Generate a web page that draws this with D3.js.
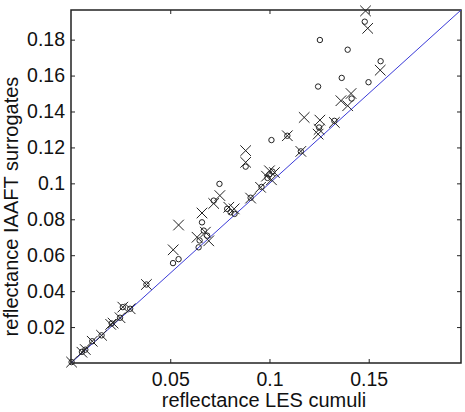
<html>
    <head>
        <script src="https://cdn.jsdelivr.net/npm/d3@7"></script>
        <style>
            body { margin: 0; background: #fff; }
            text { font-family: "Liberation Sans", Arial, sans-serif; fill: #111; }
        </style>
    </head>
    <body>
        <div id="chart"></div>

        <script type="text/javascript">

            // reflectance: LES cumuli (x) vs IAAFT surrogates (y)
            const crossX = [0.0003, 0.0055, 0.0072, 0.0107, 0.0154, 0.0200, 0.0212, 0.0247, 0.0261, 0.0298,
                            0.0380, 0.0515, 0.0542, 0.0635, 0.0677, 0.0694, 0.0660, 0.0719, 0.0750, 0.0795,
                            0.0822, 0.0905, 0.0880, 0.0880, 0.0955, 0.0985, 0.1000, 0.1010, 0.1025, 0.1090,
                            0.1158, 0.1175, 0.1254, 0.1250, 0.1245, 0.1327, 0.1360, 0.1394, 0.1411, 0.1484,
                            0.1495, 0.1558]
            const crossY = [0.0005, 0.0060, 0.0075, 0.0121, 0.0154, 0.0215, 0.0222, 0.0252, 0.0311, 0.0302,
                            0.0437, 0.0630, 0.0768, 0.0700, 0.0728, 0.0680, 0.0835, 0.0888, 0.0932, 0.0867,
                            0.0858, 0.0918, 0.1182, 0.1117, 0.0978, 0.1040, 0.1070, 0.1020, 0.1060, 0.1265,
                            0.1178, 0.1367, 0.1352, 0.1300, 0.1274, 0.1339, 0.1460, 0.1432, 0.1500, 0.1960,
                            0.1863, 0.1630]

            const circleX = [0.0003, 0.0055, 0.0072, 0.0107, 0.0154, 0.0205, 0.0247, 0.0261, 0.0298, 0.0380,
                             0.0514, 0.0542, 0.0643, 0.0648, 0.0669, 0.0686, 0.0660, 0.0719, 0.0748, 0.0787,
                             0.0804, 0.0824, 0.0880, 0.0905, 0.0960, 0.0990, 0.1000, 0.1015, 0.1010, 0.1090,
                             0.1158, 0.1250, 0.1327, 0.1245, 0.1254, 0.1364, 0.1394, 0.1414, 0.1499, 0.1480,
                             0.1560]
            const circleY = [0.0005, 0.0062, 0.0074, 0.0121, 0.0154, 0.0220, 0.0252, 0.0311, 0.0302, 0.0437,
                             0.0556, 0.0578, 0.0644, 0.0682, 0.0737, 0.0709, 0.0783, 0.0904, 0.0997, 0.0858,
                             0.0839, 0.0830, 0.1093, 0.0920, 0.0980, 0.1030, 0.1050, 0.1065, 0.1241, 0.1265,
                             0.1178, 0.1311, 0.1348, 0.1539, 0.1798, 0.1587, 0.1744, 0.1472, 0.1563, 0.1900,
                             0.1680]

            const xTicks = [0.05, 0.1, 0.15]
            const yTicks = [0.02, 0.04, 0.06, 0.08, 0.1, 0.12, 0.14, 0.16, 0.18]
            const axisMax = 0.1965

            const width = 465, height = 412
            const mLeft = 71, mTop = 10, mRight = 461, mBottom = 363

            const svg = d3.select("#chart").append("svg")
                .attr("width", width)
                .attr("height", height)

            const x = d3.scaleLinear().domain([0, axisMax]).range([mLeft, mRight])
            const y = d3.scaleLinear().domain([0, axisMax]).range([mBottom, mTop])

            // axes with inward ticks on all four sides
            const fmt = d => d3.format("")(+d.toFixed(2))

            svg.append("g")
                .attr("transform", `translate(0, ${mBottom})`)
                .call(d3.axisBottom(x).tickValues(xTicks).tickSizeInner(-4).tickSizeOuter(0).tickPadding(9).tickFormat(fmt))
            svg.append("g")
                .attr("transform", `translate(0, ${mTop})`)
                .call(d3.axisTop(x).tickValues(xTicks).tickSizeInner(-4).tickSizeOuter(0).tickFormat(""))
            svg.append("g")
                .attr("transform", `translate(${mLeft}, 0)`)
                .call(d3.axisLeft(y).tickValues(yTicks).tickSizeInner(-4).tickSizeOuter(0).tickPadding(6).tickFormat(fmt))
            svg.append("g")
                .attr("transform", `translate(${mRight}, 0)`)
                .call(d3.axisRight(y).tickValues(yTicks).tickSizeInner(-4).tickSizeOuter(0).tickFormat(""))

            svg.selectAll(".tick line").attr("stroke", "#222")
            svg.selectAll(".domain").remove()
            svg.selectAll(".tick text").attr("font-size", 19.5).style("font-family", "'Liberation Sans', Arial, sans-serif").attr("fill", "#111")

            // box
            svg.append("rect")
                .attr("x", mLeft).attr("y", mTop)
                .attr("width", mRight - mLeft).attr("height", mBottom - mTop)
                .attr("fill", "none").attr("stroke", "#222").attr("stroke-width", 1.5)

            // 1:1 line
            svg.append("line")
                .attr("x1", x(0)).attr("y1", y(0))
                .attr("x2", x(axisMax)).attr("y2", y(axisMax))
                .attr("stroke", "#3a3ad8").attr("stroke-width", 1)

            const circles = circleX.map((v, i) => ({x: v, y: circleY[i]}))
            const crosses = crossX.map((v, i) => ({x: v, y: crossY[i]}))

            svg.append("g").selectAll("circle")
                .data(circles)
                .enter()
                .append("circle")
                .attr("cx", d => x(d.x))
                .attr("cy", d => y(d.y))
                .attr("r", 2.7)
                .attr("fill", "none")
                .attr("stroke", "#222")
                .attr("stroke-width", 1)

            const s = 5.3
            svg.append("g").selectAll("path")
                .data(crosses)
                .enter()
                .append("path")
                .attr("d", d => {
                    const cx = x(d.x), cy = y(d.y)
                    return `M${cx - s},${cy - s}L${cx + s},${cy + s}M${cx - s},${cy + s}L${cx + s},${cy - s}`
                })
                .attr("fill", "none")
                .attr("stroke", "#222")
                .attr("stroke-width", 1)

            // axis titles
            svg.append("text")
                .attr("x", (mLeft + mRight) / 2 - 2)
                .attr("y", 407)
                .attr("text-anchor", "middle")
                .attr("font-size", 20)
                .text("reflectance LES cumuli")

            svg.append("text")
                .attr("transform", `translate(18, ${(mTop + mBottom) / 2 + 20}) rotate(-90)`)
                .attr("text-anchor", "middle")
                .attr("font-size", 20)
                .text("reflectance IAAFT surrogates")

        </script>
    </body>
</html>
